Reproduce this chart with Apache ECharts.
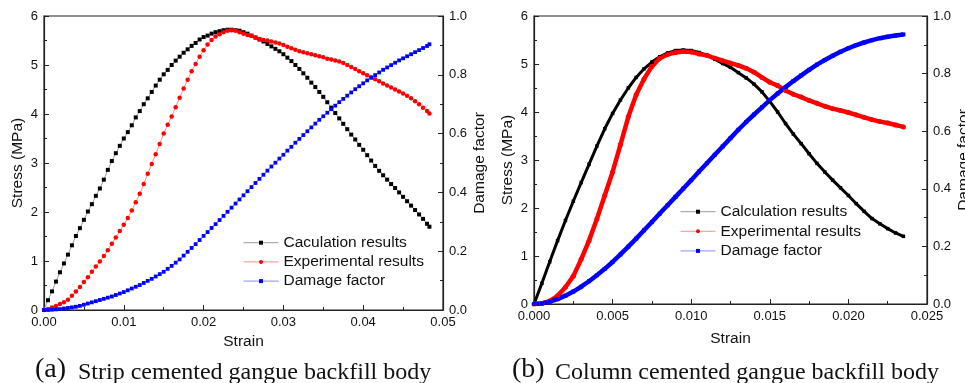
<!DOCTYPE html>
<html>
<head>
<meta charset="utf-8">
<title>Stress-strain and damage factor of cemented gangue backfill bodies</title>
<script src="https://cdn.jsdelivr.net/npm/echarts@6/dist/echarts.min.js"></script>
<style>
  html, body { margin: 0; padding: 0; background: #fff; }
  #chart { width: 965px; height: 383px; }
</style>
</head>
<body>
<div id="chart"></div>
<script>
// (a) Strip cemented gangue backfill body
const strainA = [0, 0.0005, 0.001, 0.0015, 0.002, 0.0025, 0.003, 0.0035, 0.004, 0.0045,
  0.005, 0.0055, 0.006, 0.0065, 0.007, 0.0075, 0.008, 0.0085, 0.009, 0.0095,
  0.010, 0.0105, 0.011, 0.0115, 0.012, 0.0125, 0.013, 0.0135, 0.014, 0.0145,
  0.015, 0.0155, 0.016, 0.0165, 0.017, 0.0175, 0.018, 0.0185, 0.019, 0.0195,
  0.020, 0.0205, 0.021, 0.0215, 0.022, 0.0225, 0.023, 0.0235, 0.024, 0.0245,
  0.025, 0.0255, 0.026, 0.0265, 0.027, 0.0275, 0.028, 0.0285, 0.029, 0.0295,
  0.030, 0.0305, 0.031, 0.0315, 0.032, 0.0325, 0.033, 0.0335, 0.034, 0.0345,
  0.035, 0.0355, 0.036, 0.0365, 0.037, 0.0375, 0.038, 0.0385, 0.039, 0.0395,
  0.040, 0.0405, 0.041, 0.0415, 0.042, 0.0425, 0.043, 0.0435, 0.044, 0.0445,
  0.045, 0.0455, 0.046, 0.0465, 0.047, 0.0475, 0.048, 0.0483];
const calcA = [0.00, 0.20, 0.38, 0.58, 0.77, 0.95, 1.13, 1.32, 1.51, 1.67,
  1.84, 2.01, 2.16, 2.33, 2.48, 2.66, 2.86, 3.04, 3.20, 3.35,
  3.50, 3.63, 3.77, 3.93, 4.06, 4.20, 4.32, 4.45, 4.58, 4.70,
  4.81, 4.90, 5.00, 5.09, 5.17, 5.25, 5.32, 5.39, 5.45, 5.52,
  5.57, 5.60, 5.64, 5.67, 5.69, 5.71, 5.72, 5.72, 5.71, 5.70,
  5.67, 5.64, 5.60, 5.56, 5.52, 5.48, 5.43, 5.38, 5.33, 5.28,
  5.22, 5.15, 5.08, 5.00, 4.92, 4.83, 4.74, 4.64, 4.55, 4.45,
  4.35, 4.24, 4.13, 4.02, 3.91, 3.80, 3.69, 3.58, 3.48, 3.37,
  3.27, 3.16, 3.05, 2.94, 2.84, 2.75, 2.66, 2.57, 2.49, 2.40,
  2.31, 2.22, 2.13, 2.04, 1.95, 1.86, 1.76, 1.70];
const expA = [0.00, 0.02, 0.05, 0.08, 0.12, 0.16, 0.21, 0.29, 0.38, 0.47,
  0.57, 0.67, 0.78, 0.89, 0.99, 1.10, 1.22, 1.35, 1.48, 1.61,
  1.74, 1.88, 2.03, 2.20, 2.37, 2.57, 2.78, 2.98, 3.18, 3.39,
  3.60, 3.78, 3.95, 4.14, 4.33, 4.52, 4.70, 4.87, 5.02, 5.17,
  5.30, 5.42, 5.51, 5.58, 5.63, 5.67, 5.70, 5.71, 5.70, 5.67,
  5.64, 5.61, 5.59, 5.56, 5.53, 5.51, 5.50, 5.48, 5.46, 5.44,
  5.41, 5.37, 5.34, 5.31, 5.28, 5.26, 5.24, 5.22, 5.20, 5.18,
  5.16, 5.13, 5.11, 5.09, 5.07, 5.04, 5.00, 4.96, 4.92, 4.87,
  4.83, 4.79, 4.75, 4.71, 4.67, 4.62, 4.58, 4.54, 4.50, 4.46,
  4.42, 4.37, 4.32, 4.26, 4.20, 4.13, 4.06, 4.01];
const damageA = [0.000, 0.000, 0.001, 0.002, 0.003, 0.005, 0.007, 0.009, 0.011, 0.014,
  0.018, 0.022, 0.026, 0.030, 0.034, 0.038, 0.042, 0.046, 0.051, 0.056,
  0.061, 0.067, 0.073, 0.079, 0.085, 0.092, 0.099, 0.106, 0.114, 0.122,
  0.130, 0.140, 0.150, 0.161, 0.172, 0.185, 0.198, 0.211, 0.224, 0.238,
  0.252, 0.265, 0.279, 0.292, 0.306, 0.320, 0.334, 0.348, 0.362, 0.376,
  0.390, 0.404, 0.418, 0.432, 0.446, 0.460, 0.474, 0.488, 0.501, 0.515,
  0.528, 0.542, 0.555, 0.569, 0.582, 0.595, 0.608, 0.621, 0.634, 0.647,
  0.659, 0.671, 0.683, 0.695, 0.707, 0.718, 0.729, 0.740, 0.751, 0.761,
  0.771, 0.781, 0.790, 0.799, 0.808, 0.817, 0.825, 0.833, 0.841, 0.849,
  0.856, 0.863, 0.870, 0.877, 0.884, 0.891, 0.898, 0.904];

// (b) Column cemented gangue backfill body
const strainB = [0, 0.0005, 0.001, 0.0015, 0.002, 0.0025, 0.003, 0.0035, 0.004, 0.0045,
  0.005, 0.0055, 0.006, 0.0065, 0.007, 0.0075, 0.008, 0.0085, 0.009, 0.0095,
  0.010, 0.0105, 0.011, 0.0115, 0.012, 0.0125, 0.013, 0.0135, 0.014, 0.0145,
  0.015, 0.0155, 0.016, 0.0165, 0.017, 0.0175, 0.018, 0.0185, 0.019, 0.0195,
  0.020, 0.0205, 0.021, 0.0215, 0.022, 0.0225, 0.023, 0.0235];
const calcB = [0.00, 0.43, 0.88, 1.32, 1.74, 2.14, 2.53, 2.91, 3.29, 3.65,
  3.97, 4.25, 4.50, 4.72, 4.90, 5.04, 5.15, 5.23, 5.28, 5.29,
  5.28, 5.24, 5.18, 5.10, 5.01, 4.93, 4.82, 4.71, 4.58, 4.42,
  4.22, 4.00, 3.76, 3.54, 3.34, 3.13, 2.93, 2.75, 2.58, 2.42,
  2.26, 2.09, 1.93, 1.78, 1.67, 1.57, 1.48, 1.41];
const expB = [0.00, 0.01, 0.06, 0.17, 0.35, 0.58, 0.93, 1.32, 1.77, 2.26,
  2.75, 3.32, 3.90, 4.36, 4.69, 4.95, 5.12, 5.20, 5.24, 5.26,
  5.25, 5.21, 5.18, 5.12, 5.07, 5.02, 4.97, 4.91, 4.83, 4.72,
  4.62, 4.55, 4.45, 4.37, 4.31, 4.24, 4.18, 4.12, 4.07, 4.03,
  3.99, 3.94, 3.89, 3.84, 3.80, 3.77, 3.73, 3.69];
const damageB = [0.000, 0.002, 0.008, 0.017, 0.029, 0.043, 0.060, 0.079, 0.100, 0.122,
  0.146, 0.172, 0.199, 0.227, 0.256, 0.285, 0.314, 0.343, 0.372, 0.401,
  0.430, 0.460, 0.489, 0.518, 0.547, 0.576, 0.605, 0.632, 0.658, 0.683,
  0.708, 0.731, 0.753, 0.774, 0.794, 0.813, 0.831, 0.847, 0.862, 0.876,
  0.888, 0.899, 0.908, 0.916, 0.923, 0.928, 0.932, 0.936];

const legendNamesA = ['Caculation results', 'Experimental results', 'Damage factor'];
const legendNamesB = ['Calculation results', 'Experimental results', 'Damage factor'];
const captionA = ['(a)', 'Strip cemented gangue backfill body'];
const captionB = ['(b)', 'Column cemented gangue backfill body'];

const SANS = '"Liberation Sans", Arial, sans-serif';
const SERIF = '"Liberation Serif", "Times New Roman", serif';
const INK = '#111';
const FRAME = '#222';

const pairs = (xs, ys) => xs.map((x, i) => [x, ys[i]]);

function xAxisOf(grid, max, step, digits, gap) {
  return {
    gridIndex: grid, type: 'value', min: 0, max: max, interval: step,
    name: 'Strain', nameLocation: 'middle', nameGap: gap,
    nameTextStyle: { fontFamily: SANS, fontSize: 15.5, color: INK },
    axisLine: { show: true, onZero: false, lineStyle: { color: FRAME, width: 1.2 } },
    axisTick: { show: true, inside: true, length: 5, lineStyle: { color: FRAME, width: 1 } },
    minorTick: { show: true, splitNumber: 2, length: 3, lineStyle: { color: FRAME, width: 1 } },
    axisLabel: { fontFamily: SANS, fontSize: 13, color: INK, margin: 6,
      formatter: v => v.toFixed(digits) },
    splitLine: { show: false }, minorSplitLine: { show: false }
  };
}

function yAxisOf(grid, pos, max, step, digits, name, gap) {
  return {
    gridIndex: grid, type: 'value', position: pos, min: 0, max: max, interval: step,
    name: name, nameLocation: 'middle', nameGap: gap,
    nameTextStyle: { fontFamily: SANS, fontSize: 15.5, color: INK },
    axisLine: { show: true, onZero: false, lineStyle: { color: FRAME, width: 1.2 } },
    axisTick: { show: true, inside: true, length: 5, lineStyle: { color: FRAME, width: 1 } },
    minorTick: { show: true, splitNumber: 2, length: 3, lineStyle: { color: FRAME, width: 1 } },
    axisLabel: { fontFamily: SANS, fontSize: 13, color: INK, margin: 6,
      formatter: v => v.toFixed(digits) },
    splitLine: { show: false }, minorSplitLine: { show: false }
  };
}

function lineSeries(name, xi, yi, data, symbol, size, color, lineColor, width) {
  return {
    type: 'line', name: name, xAxisIndex: xi, yAxisIndex: yi, data: data,
    symbol: symbol, symbolSize: size, showSymbol: true, showAllSymbol: true,
    itemStyle: { color: color },
    lineStyle: { color: lineColor, width: width },
    emphasis: { disabled: true }, animation: false
  };
}

const legendItem = (name, color, lineColor) => ({
  name: name, itemStyle: { color: color }, lineStyle: { color: lineColor, width: 1 }
});

function legendOf(left, top, gap, names) {
  return {
    orient: 'vertical', left: left, top: top, padding: 0, itemGap: gap,
    itemWidth: 35, itemHeight: 5, selectedMode: false,
    textStyle: { fontFamily: SANS, fontSize: 15.5, color: INK, lineHeight: 16 },
    data: [
      legendItem(names[0], '#000', '#9a9a9a'),
      legendItem(names[1], '#ff0000', '#ff8c8c'),
      legendItem(names[2], '#0000ff', '#8c8cff')
    ]
  };
}

function caption(x, parts) {
  return [
    { type: 'text', left: x, top: 356, silent: true,
      style: { text: parts[0], font: '28px ' + SERIF, fill: INK } },
    { type: 'text', left: x + 43, top: 361, silent: true,
      style: { text: parts[1], font: '24px ' + SERIF, fill: INK } }
  ];
}

const chart = echarts.init(document.getElementById('chart'), null, { renderer: 'canvas' });

// the right-hand axis title of panel (b) runs off the page edge, so the
// grids keep their fixed rectangles instead of shrinking to fit it
const gridBase = {
  show: true, borderColor: FRAME, borderWidth: 1.2, backgroundColor: 'transparent',
  containLabel: false, outerBoundsMode: 'none'
};

chart.setOption({
  backgroundColor: '#fff',
  animation: false,
  grid: [
    Object.assign({ left: 44, top: 16, width: 399, height: 294 }, gridBase),
    Object.assign({ left: 534, top: 16, width: 393, height: 288 }, gridBase)
  ],
  xAxis: [
    xAxisOf(0, 0.05, 0.01, 2, 21),
    xAxisOf(1, 0.025, 0.005, 3, 27)
  ],
  yAxis: [
    yAxisOf(0, 'left', 6, 1, 0, 'Stress (MPa)', 18),
    yAxisOf(0, 'right', 1, 0.2, 1, 'Damage factor', 29),
    yAxisOf(1, 'left', 6, 1, 0, 'Stress (MPa)', 18),
    yAxisOf(1, 'right', 1, 0.2, 1, 'Damage factor', 29)
  ],
  legend: [
    legendOf(243, 234.7, 3.2, legendNamesA),
    legendOf(680, 203.7, 3.6, legendNamesB)
  ],
  series: [
    lineSeries(legendNamesA[0], 0, 0, pairs(strainA, calcA), 'rect', 4, '#000', '#9a9a9a', 1),
    lineSeries(legendNamesA[1], 0, 0, pairs(strainA, expA), 'circle', 4.5, '#ff0000', '#ff8c8c', 1),
    lineSeries(legendNamesA[2], 0, 1, pairs(strainA, damageA), 'rect', 3.8, '#0000ff', '#8c8cff', 1),
    lineSeries(legendNamesB[0], 1, 2, pairs(strainB, calcB), 'rect', 3.5, '#000', '#000', 3),
    lineSeries(legendNamesB[1], 1, 2, pairs(strainB, expB), 'circle', 5, '#ff0000', '#ff0000', 4.5),
    lineSeries(legendNamesB[2], 1, 3, pairs(strainB, damageB), 'rect', 4, '#0000ff', '#0000ff', 4.5)
  ],
  graphic: [].concat(caption(35, captionA), caption(512, captionB))
});
</script>
</body>
</html>
